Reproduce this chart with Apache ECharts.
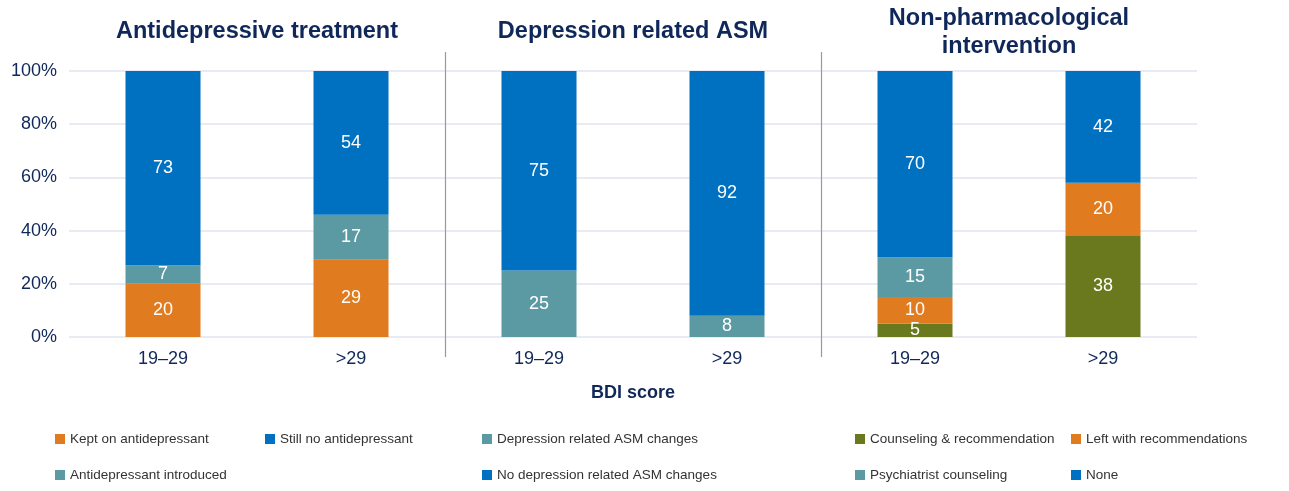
<!DOCTYPE html>
<html>
<head>
<meta charset="utf-8">
<script src="https://cdn.jsdelivr.net/npm/echarts@6/dist/echarts.min.js"></script>
<style>
  html, body { margin: 0; padding: 0; background: #fff; }
  #chart { width: 1289px; height: 491px; }
</style>
</head>
<body>
<div id="chart"></div>
<script>
// BDI score bands, two per panel
const categories = ['19–29', '>29', '19–29', '>29', '19–29', '>29'];
const panelTitles = ['Antidepressive treatment', 'Depression related ASM', 'Non-pharmacological\nintervention'];
const yTicks = [0, 20, 40, 60, 80, 100];

// Percentages per stacked segment (bottom to top within each bar)
const keptOnAntidepressant      = [20, 29, '-', '-', '-', '-'];
const antidepressantIntroduced  = [7, 17, '-', '-', '-', '-'];
const stillNoAntidepressant     = [73, 54, '-', '-', '-', '-'];
const asmChanges                = ['-', '-', 25, 8, '-', '-'];
const noAsmChanges              = ['-', '-', 75, 92, '-', '-'];
const counselingRecommendation  = ['-', '-', '-', '-', 5, 38];
const leftWithRecommendations   = ['-', '-', '-', '-', 10, 20];
const psychiatristCounseling    = ['-', '-', '-', '-', 15, '-'];
const noneIntervention          = ['-', '-', '-', '-', 70, 42];

const ORANGE = '#E07B1F', BLUE = '#0070C0', TEAL = '#5B99A3', GREEN = '#6A781E';
const NAVY = '#10275A';

const seriesDefs = [
  { name: 'Kept on antidepressant', data: keptOnAntidepressant, color: ORANGE },
  { name: 'Antidepressant introduced', data: antidepressantIntroduced, color: TEAL },
  { name: 'Still no antidepressant', data: stillNoAntidepressant, color: BLUE },
  { name: 'Depression related ASM changes', data: asmChanges, color: TEAL },
  { name: 'No depression related ASM changes', data: noAsmChanges, color: BLUE },
  { name: 'Counseling & recommendation', data: counselingRecommendation, color: GREEN },
  { name: 'Left with recommendations', data: leftWithRecommendations, color: ORANGE },
  { name: 'Psychiatrist counseling', data: psychiatristCounseling, color: TEAL },
  { name: 'None', data: noneIntervention, color: BLUE }
];

// Legend grid: [name, left, top]
const legendSlots = [
  ['Kept on antidepressant', 55, 432],
  ['Still no antidepressant', 265, 432],
  ['Depression related ASM changes', 482, 432],
  ['Counseling & recommendation', 855, 432],
  ['Left with recommendations', 1071, 432],
  ['Antidepressant introduced', 55, 468],
  ['No depression related ASM changes', 482, 468],
  ['Psychiatrist counseling', 855, 468],
  ['None', 1071, 468]
];

const FONT = '"Liberation Sans", Arial, sans-serif';
const chart = echarts.init(document.getElementById('chart'), null, { renderer: 'canvas' });

chart.setOption({
  animation: false,
  textStyle: { fontFamily: FONT },
  grid: { left: 69, right: 92, top: 71, bottom: 154 },
  legend: legendSlots.map(([name, left, top]) => ({
    data: [name], left, top, padding: 0, icon: 'rect', itemWidth: 10, itemHeight: 10, itemGap: 4,
    selectedMode: false,
    textStyle: { fontFamily: FONT, fontSize: 13.5, color: '#333', padding: [0, 0, 0, 0] }
  })),
  xAxis: {
    type: 'category',
    data: categories,
    axisLine: { show: false },
    axisTick: { show: false },
    axisLabel: { color: NAVY, fontSize: 18, margin: 13, fontFamily: FONT },
    name: 'BDI score',
    nameLocation: 'middle',
    nameGap: 47,
    nameTextStyle: { color: NAVY, fontSize: 18, fontWeight: 'bold', fontFamily: FONT }
  },
  yAxis: {
    type: 'value',
    min: 0, max: 100, interval: 20,
    axisLine: { show: false },
    axisTick: { show: false },
    splitLine: { lineStyle: { color: '#E2E4EE', width: 1.5 } },
    axisLabel: {
      color: NAVY, fontSize: 18, margin: 12, fontFamily: FONT,
      formatter: v => (yTicks.includes(v) ? v + '%' : '')
    }
  },
  series: seriesDefs.map(s => ({
    name: s.name,
    type: 'bar',
    stack: 'total',
    barWidth: 75,
    data: s.data,
    itemStyle: { color: s.color },
    label: {
      show: true, position: 'inside', color: '#fff', fontSize: 18, fontFamily: FONT,
      formatter: p => p.value
    }
  }))
});

// Panel titles and separators placed from the category axis positions
const px = i => chart.convertToPixel({ xAxisIndex: 0 }, i);
const centers = categories.map((_, i) => px(i));
const graphics = [];
for (let p = 0; p < 3; p++) {
  const cx = (centers[2 * p] + centers[2 * p + 1]) / 2;
  const twoLine = panelTitles[p].includes('\n');
  graphics.push({
    type: 'text',
    x: cx, y: twoLine ? 33 : 32,
    style: {
      text: panelTitles[p], fill: NAVY, font: 'bold 23.5px ' + FONT,
      textAlign: 'center', textVerticalAlign: 'middle', lineHeight: 28
    }
  });
}
[2, 4].forEach(i => {
  const x = Math.round((centers[i - 1] + centers[i]) / 2) + 0.5;
  graphics.push({
    type: 'line',
    shape: { x1: x, y1: 52, x2: x, y2: 357 },
    style: { stroke: '#9A9A9A', lineWidth: 1.2 }
  });
});
chart.setOption({ graphic: graphics });
</script>
</body>
</html>
